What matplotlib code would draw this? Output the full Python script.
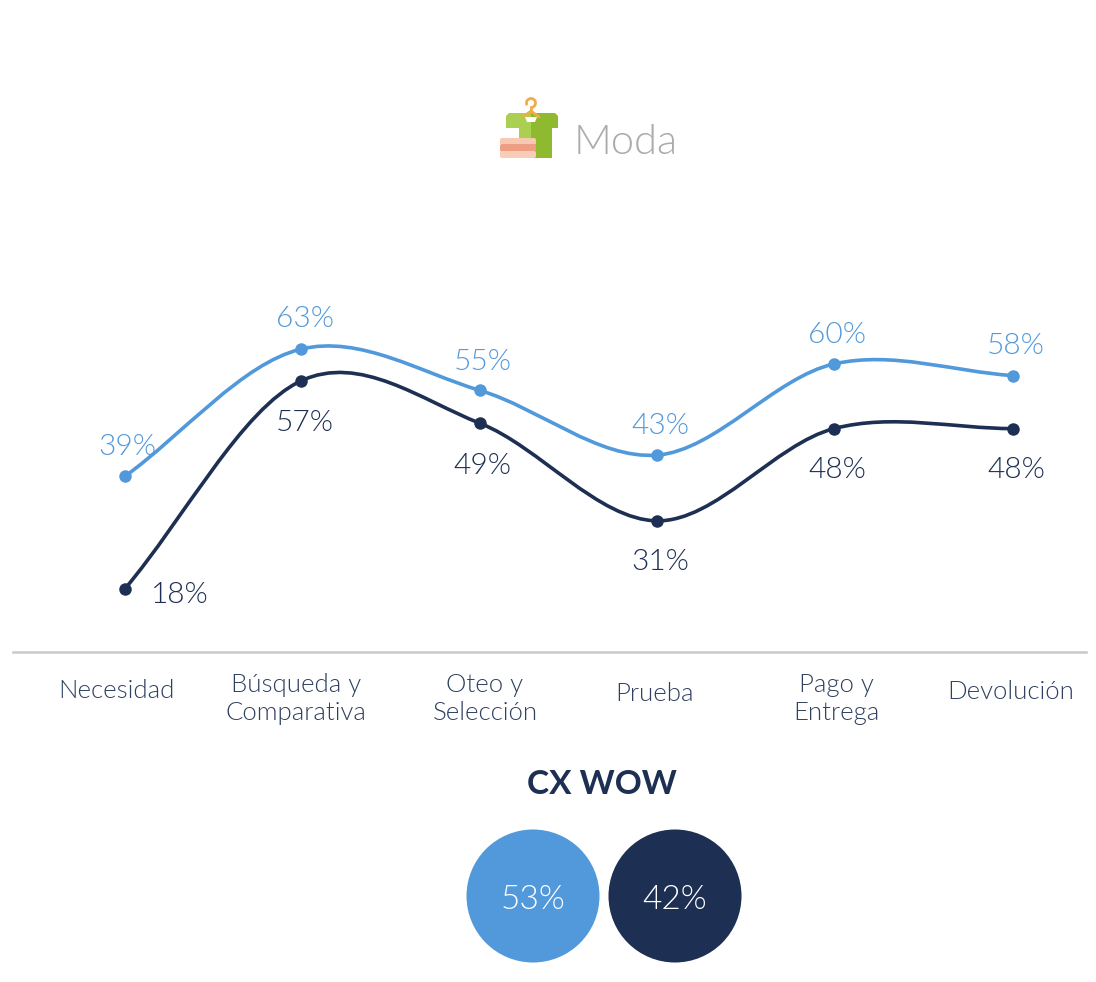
import matplotlib
matplotlib.use('AGG')
import matplotlib.pyplot as plt
from matplotlib import font_manager
from matplotlib.path import Path
from matplotlib.patches import PathPatch, Circle, Polygon, Arc, FancyBboxPatch

plt.rcParams['font.family'] = ['Lato', 'DejaVu Sans']

stages = ['Necesidad', 'Búsqueda y\nComparativa', 'Oteo y\nSelección', 'Prueba', 'Pago y\nEntrega', 'Devolución']
blue_values = [39, 63, 55.2, 43, 60.2, 58]
navy_values = [17.8, 57, 49, 30.6, 48, 48]
wow_labels = ['53%', '42%']

BLUE = '#5299DB'
NAVY = '#1D2F52'
W, H = 1096, 982

# pixel positions of the categories, reading from the reference
x_pos = [125, 301, 480, 657, 834, 1013]

# Lato Light if it is there, weight='light' picks the hairline cut
light_files = [f.fname for f in font_manager.fontManager.ttflist
               if f.name == 'Lato' and f.fname.endswith('Lato-Light.ttf')]
thin = {'fontproperties': font_manager.FontProperties(fname=light_files[0])} if light_files else {}


def to_y(v):
    return 683 - 5.3 * v


def smooth_path(xs, ys):
    # excel style smoothed line, bezier through each point
    verts = [(xs[0], ys[0])]
    codes = [Path.MOVETO]
    n = len(xs)
    for i in range(n - 1):
        x1, y1 = xs[i], ys[i]
        x2, y2 = xs[i + 1], ys[i + 1]
        # the ends run straight at the next point instead of flattening
        x0, y0 = (xs[i - 1], ys[i - 1]) if i > 0 else (2 * x1 - x2, 2 * y1 - y2)
        x3, y3 = (xs[i + 2], ys[i + 2]) if i + 2 < n else (2 * x2 - x1, 2 * y2 - y1)
        verts += [(x1 + (x2 - x0) / 6, y1 + (y2 - y0) / 6),
                  (x2 - (x3 - x1) / 6, y2 - (y3 - y1) / 6),
                  (x2, y2)]
        codes += [Path.CURVE4] * 3
    return Path(verts, codes)


def put(x, y, s, size, color, **kw):
    t = ax.text(x, y, s, color=color, ha='center', va='center', **thin, **kw)
    t.set_fontsize(size)
    return t


fig = plt.figure(figsize=(W / 100, H / 100), dpi=100)
ax = fig.add_axes([0, 0, 1, 1])
ax.set_xlim(0, W)
ax.set_ylim(H, 0)
ax.axis('off')

for values, color in [(blue_values, BLUE), (navy_values, NAVY)]:
    ys = [to_y(v) for v in values]
    ax.add_patch(PathPatch(smooth_path(x_pos, ys), fill=False, edgecolor=color, lw=2.6, capstyle='round'))
    ax.plot(x_pos, ys, 'o', color=color, ms=9, mec='none')

# value labels, a few sit off to the side like the original
for i, v in enumerate(blue_values):
    dx = [2, 4, 3, 3, 3, 3][i]
    dy = [-29, -30, -28, -29, -29, -30][i]
    put(x_pos[i] + dx, to_y(v) + dy, f'{round(v)}%', 21.5, BLUE)
for i, v in enumerate(navy_values):
    dx = [55, 4, 2, 3, 3, 3][i]
    dy = [6, 42, 43, 41, 41, 41][i]
    put(x_pos[i] + dx, to_y(v) + dy, f'{round(v)}%', 21.5, NAVY)

ax.plot([13, 1086], [652, 652], color='#C9C9C9', lw=1.8)

label_x = [116, 296, 485, 655, 836, 1011]
label_y = [691, 699, 699, 694, 699, 692]
for lx, ly, s in zip(label_x, label_y, stages):
    put(lx, ly, s, 18.5, '#2F4060', linespacing=1.22)

ax.text(602, 785, 'CX WOW', color=NAVY, fontsize=24, fontweight='bold', ha='center', va='center')
for cx, s, color in zip([533, 675], wow_labels, [BLUE, NAVY]):
    ax.add_patch(Circle((cx, 896), 66.5, color=color, lw=0))
    put(cx, 900, s, 24, 'white')

# title with small shirt icon
put(626, 142, 'Moda', 30, '#ABABAB')
ax.add_patch(Arc((531, 103), 9, 9, theta1=150, theta2=70, color='#EDAE49', lw=2))
ax.plot([531, 531], [107, 111], color='#EDAE49', lw=2)
ax.add_patch(Polygon([(506, 116), (509, 113), (531, 113), (531, 158), (519, 158), (519, 128), (506, 128)], color='#ABCF50', lw=0))
ax.add_patch(Polygon([(531, 113), (555, 113), (558, 116), (558, 128), (552, 128), (552, 158), (531, 158)], color='#8FBA30', lw=0))
ax.add_patch(Polygon([(525, 117), (537, 117), (535, 122), (527, 122)], color='white', lw=0))
ax.plot([523, 531, 539], [117, 111, 117], color='#EDAE49', lw=2, solid_capstyle='round')
for y0, h, c in [(138, 6, '#F7C9B3'), (144, 7, '#EE9E82'), (151, 6, '#F7CDB9')]:
    ax.add_patch(FancyBboxPatch((502, y0 + 2), 32, h - 3, boxstyle='round,pad=2', color=c, lw=0))

fig.savefig('out.png', dpi=100, facecolor='white')
plt.close(fig)
